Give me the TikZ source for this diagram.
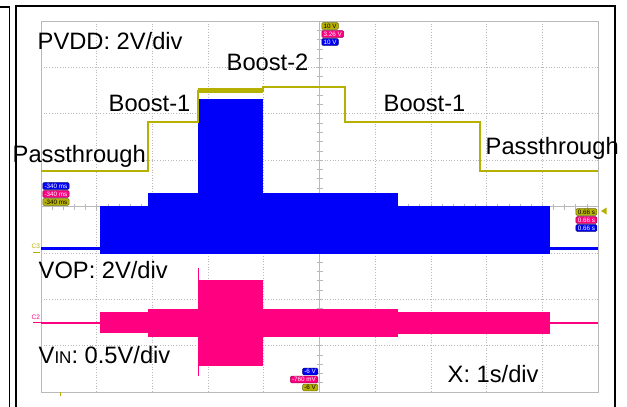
\documentclass[tikz,border=0pt]{standalone}
\usepackage{fontspec}
\setmainfont{Liberation Sans}
\definecolor{trY}{RGB}{182,176,0}
\definecolor{trB}{RGB}{0,0,250}
\definecolor{trP}{RGB}{255,0,128}
\definecolor{gridc}{RGB}{185,185,185}
\begin{document}
\begin{tikzpicture}[x=1pt,y=-1pt,
  lbl/.style={anchor=base west,inner sep=0pt,font=\fontsize{23.7}{28}\selectfont},
  tag/.style={rounded corners=1.2pt,inner xsep=1.8pt,inner ysep=0pt,minimum height=6.8pt,
    font=\fontsize{6.3}{6.5}\selectfont,line width=0.5pt},
  ytag/.style={tag,fill=trY,draw=trY!60!black,text=black},
  ptag/.style={tag,fill=trP,draw=trP!60!black,text=white},
  btag/.style={tag,fill=trB,draw=trB!50!black,text=white},
  gridl/.style={gridc,line width=0.7pt,dotted},
  chl/.style={inner sep=0pt,font=\fontsize{6.5}{7}\selectfont}]
\useasboundingbox (0,0) rectangle (627,407);
\fill[white] (0,0) rectangle (627,407);
% frames
\draw[line width=1.2pt] (0,7) -- (9.5,7) -- (9.5,407);
\draw[line width=1.6pt] (16,407) -- (16,6) -- (615,6) -- (615,407);
% grid
\foreach \i in {1,...,9} \draw[gridl] ({41+\i*55.7},21) -- ({41+\i*55.7},392);
\foreach \j in {1,...,7} \draw[gridl] (41,{21+\j*46.375}) -- (598,{21+\j*46.375});
\draw[gridc,line width=0.6pt] (319.5,21) -- (319.5,392);
\draw[gridc,line width=0.6pt] (41,206.5) -- (598,206.5);
\foreach \k in {1,...,39} \draw[gridc,line width=0.6pt] (316.5,{21+\k*9.275}) -- (322.5,{21+\k*9.275});
\foreach \k in {1,...,49} \draw[gridc,line width=0.6pt] ({41+\k*11.14},203.5) -- ({41+\k*11.14},209.5);
\draw[gridc,line width=0.9pt] (41,21) rectangle (598,392);
% blue trace (VOP)
\draw[trB,line width=3pt] (41,248) -- (100,248);
\fill[trB] (100,206) rectangle (148,254);
\fill[trB] (148,193) rectangle (198,254);
\fill[trB] (198,99) rectangle (263,254);
\fill[trB] (263,193) rectangle (398,254);
\fill[trB] (398,206) rectangle (550,254);
\draw[trB,line width=3pt] (550,248) -- (598,248);
% pink trace (VIN)
\draw[trP,line width=2pt] (41,322.5) -- (100,322.5);
\fill[trP] (100,312) rectangle (148,333);
\fill[trP] (148,309) rectangle (198,337);
\fill[trP] (198,280) rectangle (263,366);
\draw[trP,line width=1pt] (198,268) -- (198,376);
\fill[trP] (263,309) rectangle (398,337);
\fill[trP] (398,312) rectangle (550,334);
\draw[trP,line width=2pt] (550,322.5) -- (598,322.5);
% yellow trace (PVDD)
\fill[trY] (198,88) rectangle (263,93);
\draw[trY,line width=2pt] (41,170.5) -- (148,170.5) -- (148,121.5) -- (198,121.5) -- (198,90.5) -- (263,90.5)
  -- (263,87) -- (345,87) -- (345,122) -- (480,122) -- (480,171) -- (598,171);
% channel markers
\node[chl,text=trY,anchor=west] (c3) at (31.5,246.5) {C3};
\draw[trY,line width=1pt] (33,252.5) -- (40,252.5);
\node[chl,text=trP,anchor=west] (c2) at (31.5,317) {C2};
\draw[trP,line width=1pt] (33,322.5) -- (41,322.5);
\fill[trY] (601,211) -- (606.5,207.5) -- (606.5,214.5) -- cycle;
\draw[trY,line width=1pt] (60,392) -- (60,396);
% tags
\node[ytag,anchor=west] (t1) at (321.5,26) {10 V};
\node[ptag,anchor=west] (t2) at (321.5,34) {3.26 V};
\node[btag,anchor=west] (t3) at (321.5,42) {10 V};
\node[btag,anchor=west] (l1) at (42.5,186) {-340 ms};
\node[ptag,anchor=west] (l2) at (42.5,194) {-340 ms};
\node[ytag,anchor=west] (l3) at (42.5,202) {-340 ms};
\node[ytag,anchor=east] (r1) at (597,212) {0.66 s};
\node[ptag,anchor=east] (r2) at (597,220) {0.66 s};
\node[btag,anchor=east] (r3) at (597,228) {0.66 s};
\node[btag,anchor=east] (b1) at (318,371.5) {-6 V};
\node[ptag,anchor=east] (b2) at (318,379.5) {-760 mV};
\node[ytag,anchor=east] (b3) at (318,387.5) {-6 V};
% labels
\node[lbl] (pvdd) at (37.5,49.3) {PVDD: 2V/div};
\node[lbl] (boosttwo) at (226.5,70.7) {Boost-2};
\node[lbl] (boostonea) at (108.5,111.7) {Boost-1};
\node[lbl] (passa) at (12.5,162) {Passthrough};
\node[lbl] (boostoneb) at (383.5,111.7) {Boost-1};
\node[lbl] (passb) at (485.5,154) {Passthrough};
\node[lbl] (vop) at (38.5,278.3) {VOP: 2V/div};
\node[lbl] (vin) at (38.5,363.3) {V{\fontsize{17}{20}\selectfont IN}: 0.5V/div};
\node[lbl] (xdiv) at (447.5,382.3) {X: 1s/div};
\end{tikzpicture}
\end{document}
